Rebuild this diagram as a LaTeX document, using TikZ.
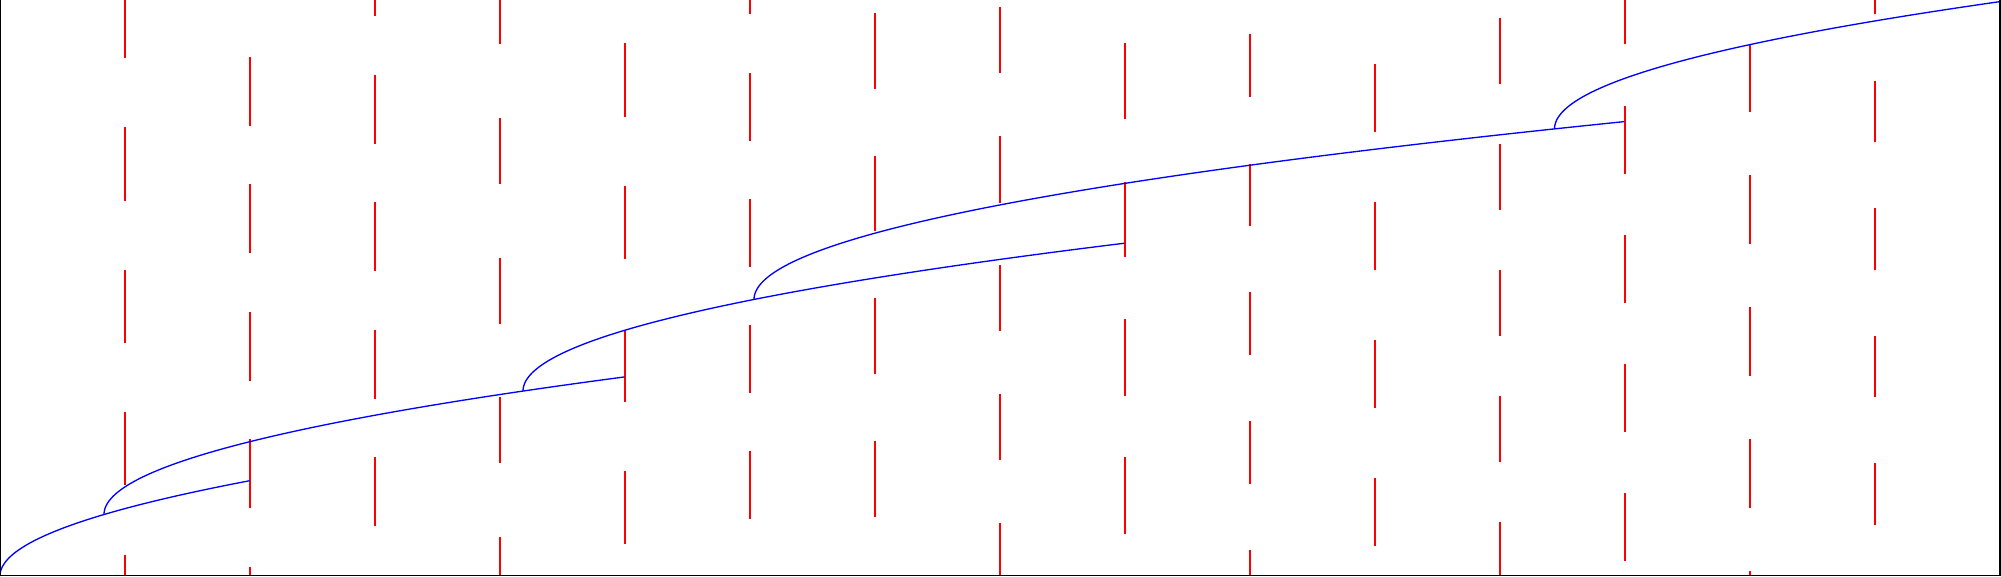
\documentclass[tikz,border=0pt]{standalone}
\begin{document}
\begin{tikzpicture}[x=0.01cm,y=-0.01cm,
  redseg/.style={red, line width=0.5pt},
  branch/.style={blue, line width=0.38pt},
  frameline/.style={black, line width=0.35pt}]
\useasboundingbox (0,0) rectangle (2001,576);
% red segments, column by column
\foreach \cx/\segs in {
  125/{0/57.7,127/200.7,269.7/343.3,412/485,554.7/576},
  250/{56.7/126,184/253,311.7/380.7,439.3/507.7,566.7/576},
  375/{0/15.7,74.7/143.7,202.3/270.7,329.7/399,457.3/525.7},
  500/{0/44.3,118.3/184.3,258/323.7,397.3/462.7,536.7/576},
  625/{43.3/116.7,185.7/259.3,329.7/401.7,470.7/544},
  750/{0/14.3,73.3/140.7,199.3/266.7,325.3/392.5,451/518.7},
  875/{13.3/89.3,155.7/231,298.3/374.3,440.7/516.7},
  1000/{7.3/72.7,136/202.7,265.3/331,394.3/460,523.3/576},
  1125/{43.3/119.3,181.7/257.3,319.3/395.7,457.3/533.7},
  1250/{34.3/97.3,164/226,292.3/355,421.3/484,550.3/576},
  1375/{64.3/131.7,202.3/269.7,340.3/407.7,478.3/545.7},
  1500/{17.7/83.7,144/209.7,269.7/335.7,395.7/461.7,521.7/576},
  1625/{0/44.3,106.3/173.7,235.3/302.7,364/431.7,493.3/560.7},
  1750/{44/111.7,175.3/244,307.3/376.3,439.3/508,571.3/576},
  1875/{0/14.3,80.7/142.3,208.3/269.7,335.7/397.3,463.3/524.7}}{
  \foreach \ya/\yb in \segs {
    \draw[redseg] (\cx,\ya) -- (\cx,\yb);
  }
}
% blue branches: x = x0 + L t^2, y = y0 - kS t
\foreach \xo/\yo/\L/\kS in {0/576/250/95.34, 104/514.5/521/137.64, 523/391.1/602/147.95, 754/299.5/871/177.96, 1554.5/128.9/445.5/127.28}{
  \draw[branch] plot[domain=0:1, samples=90] ({\xo+\L*\x*\x}, {\yo-\kS*\x});
}
% frame
\draw[frameline] (0.4,0) -- (0.4,575.6) -- (2000,575.6) -- (2000,0);
\end{tikzpicture}
\end{document}
